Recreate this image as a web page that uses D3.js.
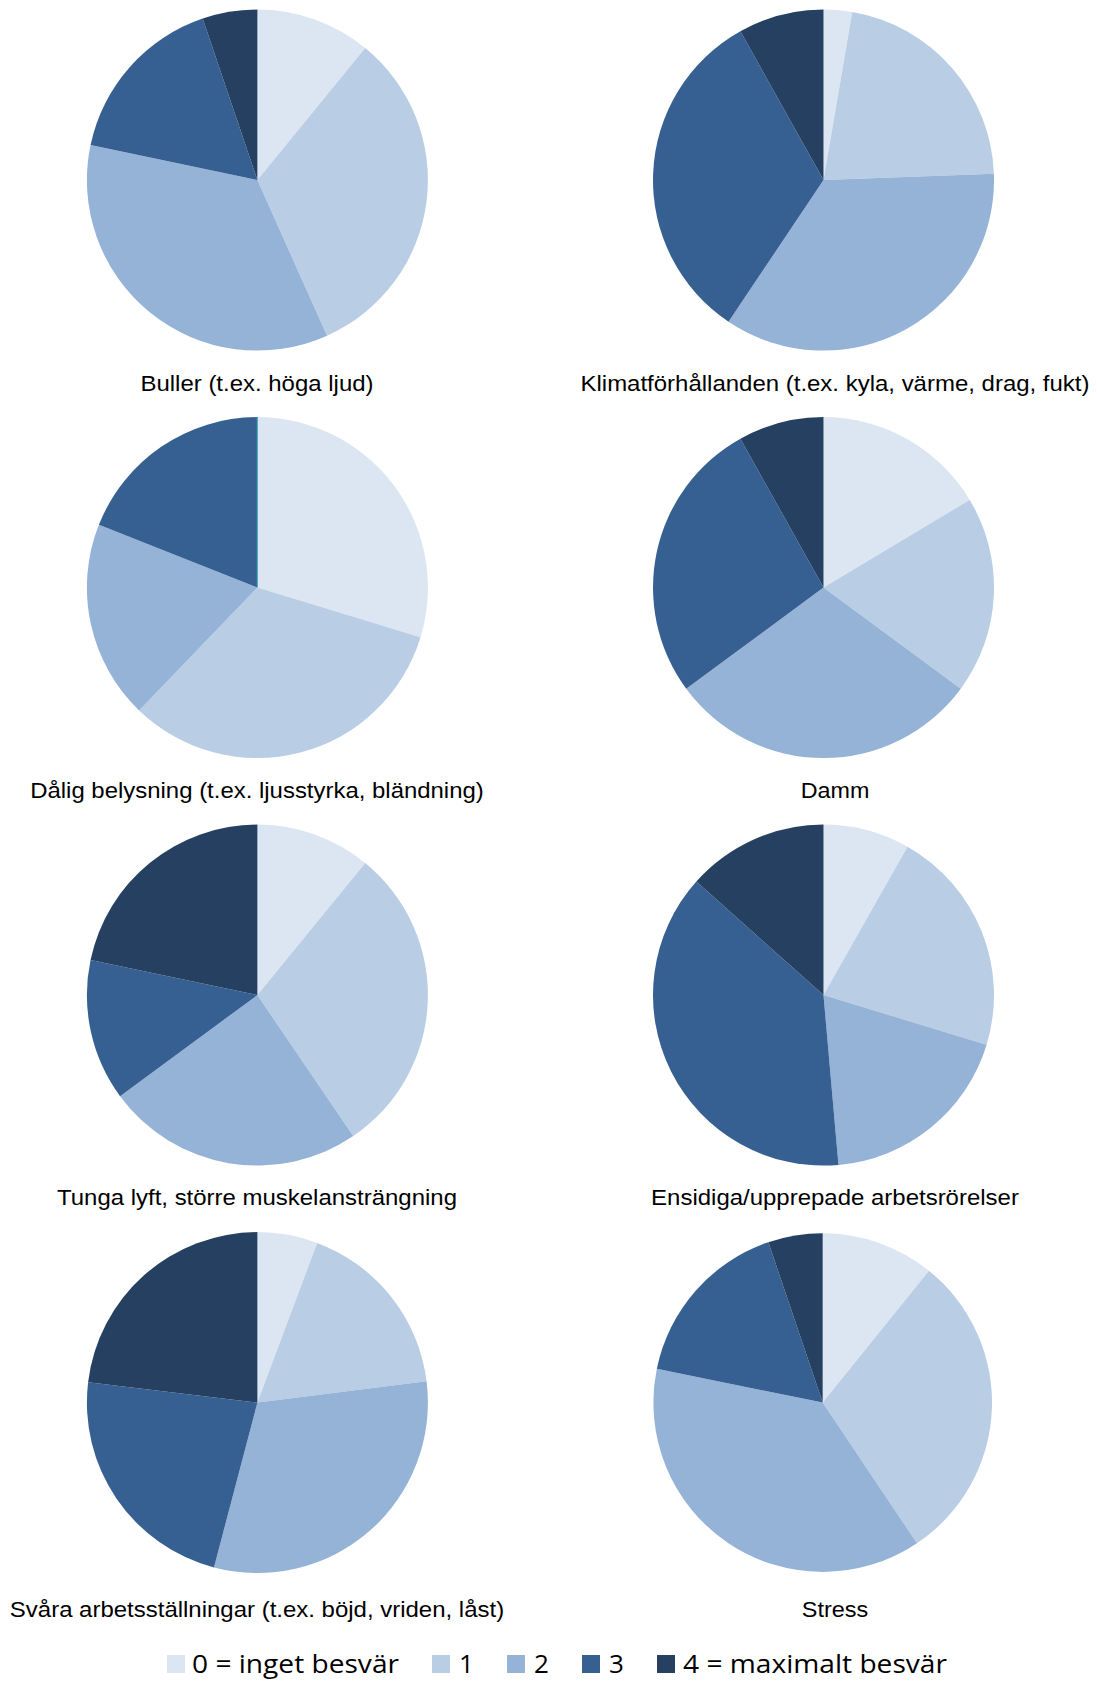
<!DOCTYPE html>
<html><head><meta charset="utf-8">
<script src="https://cdn.jsdelivr.net/npm/d3@7"></script>
<style>body{margin:0;background:#fff}svg{display:block}</style>
</head><body>
<svg id="c" width="1097" height="1682"></svg>
<script>
const levels = ["0 = inget besvär", "1", "2", "3", "4 = maximalt besvär"];
const colors = ["#dce6f2", "#b9cde5", "#95b3d7", "#376092", "#254061"];
const titles = [
  "Buller (t.ex. höga ljud)",
  "Klimatförhållanden (t.ex. kyla, värme, drag, fukt)",
  "Dålig belysning (t.ex. ljusstyrka, bländning)",
  "Damm",
  "Tunga lyft, större muskelansträngning",
  "Ensidiga/upprepade arbetsrörelser",
  "Svåra arbetsställningar (t.ex. böjd, vriden, låst)",
  "Stress"
];
const buller   = [10.9, 32.4, 35.0, 16.5, 5.2];
const klimat   = [2.7, 21.7, 35.0, 32.5, 8.1];
const belysning= [29.7, 32.5, 18.8, 19.0, 0];
const damm     = [16.4, 18.7, 29.8, 27.0, 8.1];
const tunga    = [10.9, 29.6, 24.4, 13.4, 21.7];
const ensidiga = [8.2, 21.5, 18.9, 38.0, 13.4];
const svara    = [5.7, 17.3, 31.1, 22.8, 23.1];
const stress   = [10.8, 29.8, 37.6, 16.6, 5.2];
const series = [buller, klimat, belysning, damm, tunga, ensidiga, svara, stress];

// layout
const pieX = [257.4, 823.5, 257.4, 823.5, 257.4, 823.5, 257.4, 822.7];
const pieY = [180.1, 180.1, 587.6, 587.6, 995.1, 995.1, 1402.6, 1402.6];
const pieR = [170.5, 170.5, 170.5, 170.5, 170.5, 170.5, 170.5, 169.3];
const labelX = [257, 835];
const labelY = [391, 798, 1205, 1617];
const labelW = [233, 509, 453.6, 68.6, 400, 367.8, 494.3, 66.5];

const svg = d3.select("#c");
const pie = d3.pie().sort(null).value(d => d);

series.forEach((vals, i) => {
  const col = i % 2, row = Math.floor(i / 2);
  const arc = d3.arc().innerRadius(0).outerRadius(pieR[i]);
  const g = svg.append("g").attr("transform", `translate(${pieX[i]},${pieY[i]})`);
  g.selectAll("path").data(pie(vals)).join("path")
    .attr("d", arc)
    .attr("fill", (d, j) => colors[j])
    .attr("stroke", d => d.value === 0 ? "#4bacc6" : "none")
    .attr("stroke-width", 1.2);
  svg.append("text")
    .attr("x", labelX[col]).attr("y", labelY[row])
    .attr("text-anchor", "middle")
    .attr("font-family", "Liberation Sans, Arial, sans-serif")
    .attr("font-size", 22.5)
    .attr("fill", "#000")
    .attr("textLength", labelW[i])
    .attr("lengthAdjust", "spacingAndGlyphs")
    .text(titles[i]);
});

// legend
const legSq = [167, 432, 507, 582, 657];
const legTx = [192, 459, 534, 609, 683];
const legW = [207, 0, 0, 0, 264];
const legY = 1664;
const lg = svg.append("g");
levels.forEach((t, j) => {
  lg.append("rect").attr("x", legSq[j]).attr("y", legY - 9).attr("width", 18).attr("height", 18).attr("fill", colors[j]);
  const tx = lg.append("text").attr("x", legTx[j]).attr("y", legY + 9)
    .attr("font-family", "Open Sans, Noto Sans, sans-serif")
    .attr("font-size", 26).attr("fill", "#000").text(t);
  if (legW[j]) tx.attr("textLength", legW[j]).attr("lengthAdjust", "spacingAndGlyphs");
});
</script>
</body></html>
